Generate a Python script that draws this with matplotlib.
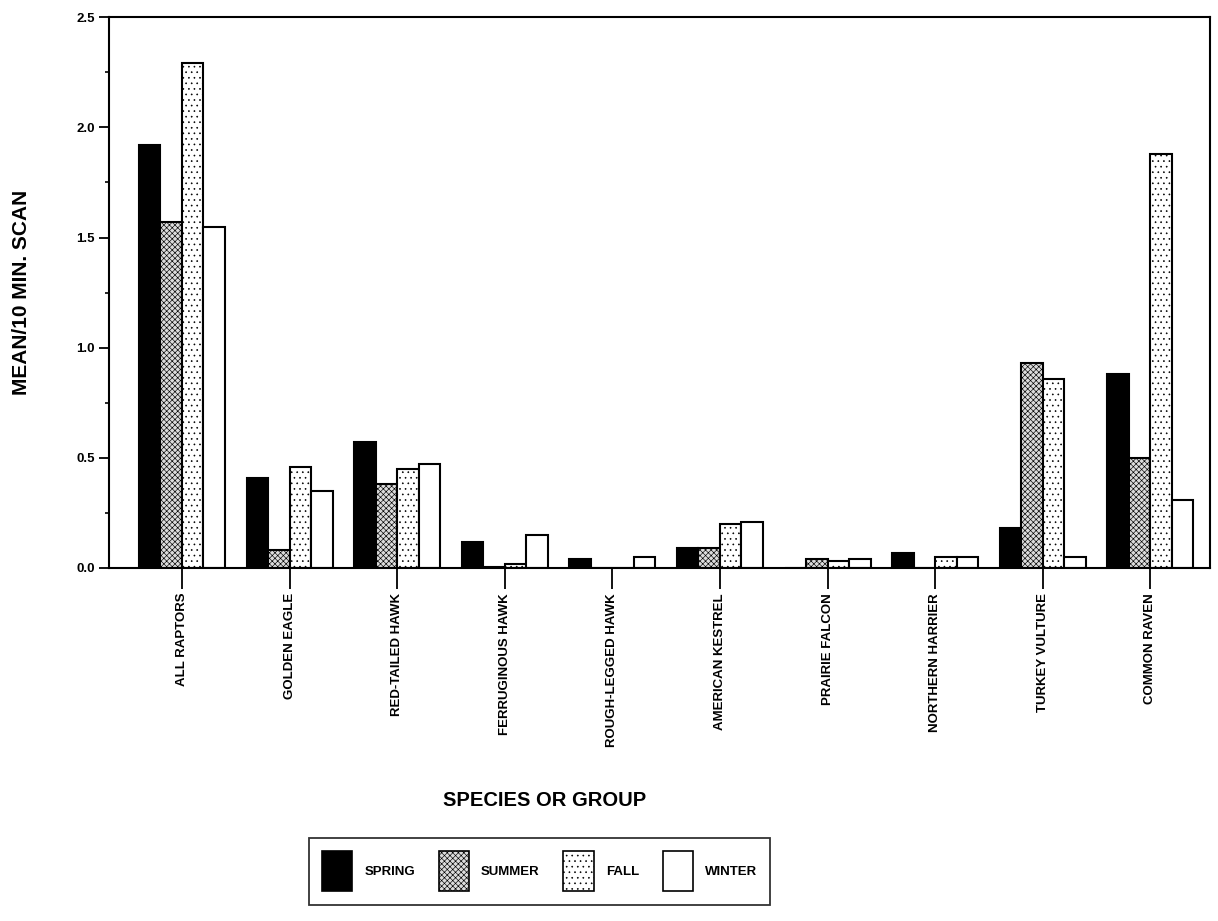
import numpy as np
import matplotlib
matplotlib.use('Agg')
import matplotlib.pyplot as plt
from matplotlib.patches import Patch
from matplotlib.ticker import MultipleLocator

species = ['ALL RAPTORS', 'GOLDEN EAGLE', 'RED-TAILED HAWK', 'FERRUGINOUS HAWK',
           'ROUGH-LEGGED HAWK', 'AMERICAN KESTREL', 'PRAIRIE FALCON',
           'NORTHERN HARRIER', 'TURKEY VULTURE', 'COMMON RAVEN']
spring = [1.92, 0.41, 0.57, 0.12, 0.04, 0.09, 0.00, 0.07, 0.18, 0.88]
summer = [1.57, 0.08, 0.38, 0.005, 0.00, 0.09, 0.04, 0.00, 0.93, 0.50]
fall = [2.29, 0.46, 0.45, 0.02, 0.00, 0.20, 0.03, 0.05, 0.86, 1.88]
winter = [1.55, 0.35, 0.47, 0.15, 0.05, 0.21, 0.04, 0.05, 0.05, 0.31]
seasons = ['SPRING', 'SUMMER', 'FALL', 'WINTER']

plt.rcParams['font.family'] = ['Liberation Sans', 'DejaVu Sans']
plt.rcParams['hatch.linewidth'] = 0.45

fig = plt.figure(figsize=(12.18, 9.21), dpi=100)
ax = fig.add_axes([0.0895, 0.3833, 0.904, 0.598])

x = np.arange(len(species))
w = 0.2
styles = [
    dict(color='black', edgecolor='black'),
    dict(facecolor='#dcdcdc', edgecolor='black', hatch='xxxxxx'),
    dict(facecolor='white', edgecolor='black', hatch='...'),
    dict(facecolor='white', edgecolor='black'),
]
for i, vals in enumerate([spring, summer, fall, winter]):
    ax.bar(x + (i - 1.5) * w, vals, w, linewidth=1.5, **styles[i])

# ticks at ~107.6 px spacing, first at 73 px from the left spine
ax.set_xlim(-0.678, 9.555)
ax.set_ylim(0, 2.5)
ax.set_yticks([0, 0.5, 1.0, 1.5, 2.0, 2.5])
ax.yaxis.set_minor_locator(MultipleLocator(0.25))
ax.set_yticklabels(['0.0', '0.5', '1.0', '1.5', '2.0', '2.5'], fontsize=9.5, fontweight='bold')
ax.set_xticks(x)
ax.set_xticklabels(species, rotation=90, fontsize=9.5, fontweight='bold')
ax.tick_params(axis='x', length=15, width=1.3, direction='out', pad=3)
ax.tick_params(axis='y', which='major', length=7, width=1.3, direction='out', pad=3)
ax.tick_params(axis='y', which='minor', length=3, width=1.2, direction='out')
for s in ax.spines.values():
    s.set_linewidth(1.5)

ax.set_ylabel('MEAN/10 MIN. SCAN', fontsize=15, fontweight='bold', labelpad=33)
fig.text(0.447, 0.131, 'SPECIES OR GROUP', fontsize=14.5, fontweight='bold',
         ha='center', va='center')

handles = [Patch(linewidth=1.2, **st) for st in styles]
leg = fig.legend(handles, seasons, loc='center', bbox_to_anchor=(0.443, 0.054),
                 ncol=4, prop={'size': 9.5, 'weight': 'bold'}, handlelength=2.3,
                 handleheight=4.3, columnspacing=1.8, handletextpad=0.9,
                 fancybox=False, edgecolor='black', borderpad=1.0)
leg.get_frame().set_linewidth(1.3)

fig.savefig('out.png', dpi=100)
